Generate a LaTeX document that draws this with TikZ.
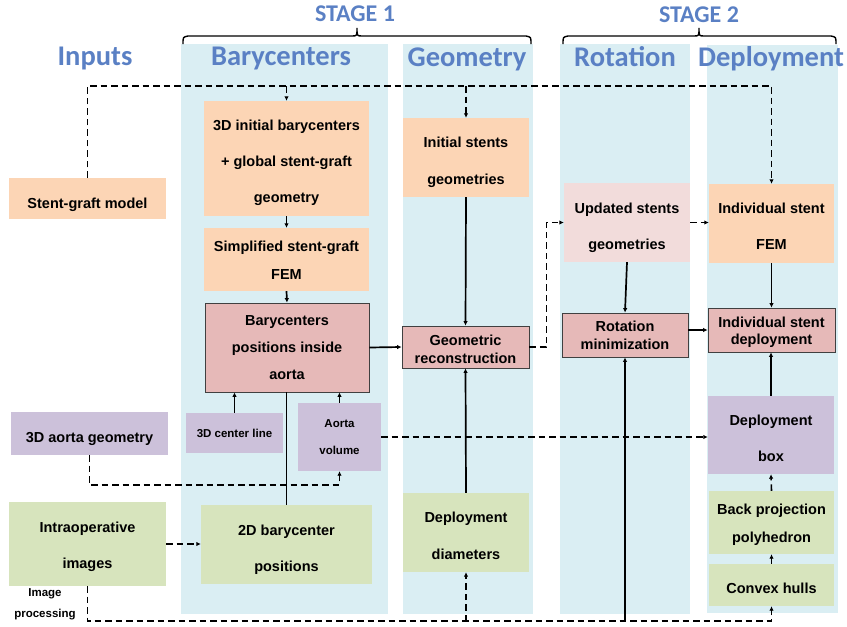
\documentclass[tikz,border=0pt]{standalone}
\usepackage{fontspec}
\setmainfont{Liberation Sans}
\newfontfamily\titlefont{Carlito}
\usetikzlibrary{arrows.meta}
\definecolor{colbg}{HTML}{DAEEF3}
\definecolor{peach}{HTML}{FCD5B5}
\definecolor{pinkc}{HTML}{E6B9B8}
\definecolor{lpink}{HTML}{F2DCDB}
\definecolor{purp}{HTML}{CCC1DA}
\definecolor{grn}{HTML}{D7E4BD}
\definecolor{ttl}{HTML}{5A80C4}
\newcommand{\tsh}[1]{\rule{0pt}{\dimexpr 10.6pt+#1pt*2\relax}}
\begin{document}
\begin{tikzpicture}[x=1pt,y=-1pt,
  bx/.style={inner sep=0pt, align=center, text=black},
  fs/.style={font=\bfseries\fontsize{14.5}{#1}\selectfont},
  sm/.style={font=\bfseries\fontsize{11.5}{#1}\selectfont},
  sz/.style 2 args={minimum width=#1pt, minimum height=#2pt},
  pch/.style={bx,fill=peach},
  pnk/.style={bx,fill=pinkc,draw=black!75,line width=0.8pt},
  lpk/.style={bx,fill=lpink},
  prp/.style={bx,fill=purp},
  grb/.style={bx,fill=grn},
  colrect/.style={fill=colbg},
  ln/.style={line width=1.7pt},
  arr/.style={line width=1.7pt,-{Latex[length=4.5pt,width=4.5pt]}},
  darr/.style={line width=1.6pt,dash pattern=on 6.5pt off 4pt,-{Latex[length=4.5pt,width=4.5pt]}},
  brc/.style={line width=1.4pt},
  ttlstyle/.style={text=ttl,font=\titlefont\bfseries\fontsize{28.5}{30}\selectfont, inner sep=0pt, anchor=base},
  stgstyle/.style={text=ttl,font=\titlefont\bfseries\fontsize{24}{26}\selectfont, inner sep=0pt, anchor=base}
]
\useasboundingbox (0,0) rectangle (847,627);

% columns
\fill[colrect] (181,44) rectangle (388,614);
\fill[colrect] (403,44) rectangle (533,614);
\fill[colrect] (560,44) rectangle (690,614);
\fill[colrect] (707,45) rectangle (838,613);

% braces
\draw[brc] (183,44) .. controls (183,37) .. (188,36) -- (352,36) .. controls (357,36) .. (357,28)
  .. controls (357,36) .. (362,36) -- (526,36) .. controls (531,37) .. (531,44);
\draw[brc] (563,44) .. controls (563,37) .. (568,36) -- (694,36) .. controls (699,36) .. (699,28)
  .. controls (699,36) .. (704,36) -- (831,36) .. controls (836,37) .. (836,44);

% titles
\node[stgstyle] (st1) at (355,21) {STAGE 1};
\node[stgstyle] (st2) at (699,22) {STAGE 2};
\node[ttlstyle] (tin) at (95,65) {Inputs};
\node[ttlstyle] (tba) at (281,65) {Barycenters};
\node[ttlstyle] (tge) at (467,66) {Geometry};
\node[ttlstyle] (tro) at (625,66) {Rotation};
\node[ttlstyle,anchor=base west] (tde) at (698,66) {Deployment};

% inputs
\node[pch,sz={157}{41},fs=18] (sgm) at (87.5,198.5) {\tsh{6}Stent-graft model};
\node[prp,sz={157}{43},fs=18] (ag) at (89.5,433.5) {\tsh{5}3D aorta geometry};
\node[grb,sz={157}{84},fs=36] (io) at (87.5,544) {\tsh{3}Intraoperative\\images};
\node[bx,sm=21] (ipl) at (45,604.5) {Image\\processing};

% barycenters column
\node[pch,sz={165}{115},fs=36] (ib) at (286.5,158.5) {\tsh{4}3D initial barycenters\\+ global stent-graft\\geometry};
\node[pch,sz={165}{63},fs=28] (sf) at (286.5,259.5) {\tsh{1}Simplified stent-graft\\FEM};
\node[pnk,sz={164}{89},fs=27] (bp) at (287,347.5) {Barycenters\\positions inside\\aorta};
\node[prp,sz={97}{40},sm=18] (cl) at (234.5,433) {3D center line};
\node[prp,sz={83}{68},sm=27] (av) at (339.5,437) {Aorta\\volume};
\node[grb,sz={171}{79},fs=36] (bc2) at (286.5,544.5) {\tsh{5}2D barycenter\\positions};

% geometry column
\node[pch,sz={126}{79},fs=37] (isg) at (466,157.5) {\tsh{5}Initial stents\\geometries};
\node[pnk,sz={127}{42},fs=18] (gr) at (465.5,347) {\tsh{2}Geometric\\reconstruction};
\node[grb,sz={126}{79},fs=37] (dd) at (466,532.5) {\tsh{3}Deployment\\diameters};

% rotation column
\node[lpk,sz={126}{79},fs=36] (usg) at (627,222.5) {\tsh{5}Updated stents\\geometries};
\node[pnk,sz={126}{44},fs=18] (rm) at (625,335) {Rotation\\minimization};

% deployment column
\node[pch,sz={125}{79},fs=36] (isf) at (771.5,223.5) {\tsh{3}Individual stent\\FEM};
\node[pnk,sz={127}{44},fs=17] (isd) at (771.5,330) {\tsh{2}Individual stent\\deployment};
\node[prp,sz={126}{78},fs=36] (db) at (771,435) {\tsh{3}Deployment\\box};
\node[grb,sz={125}{63},fs=28] (bpp) at (771.5,522.5) {\tsh{2}Back projection\\polyhedron};
\node[grb,sz={125}{42},fs=18] (ch) at (771.5,585) {\tsh{3}Convex hulls};

% connectors
\coordinate (tr) at (772,86);
\coordinate (bl) at (0,621);
\coordinate (ml) at (0,485);
\draw[darr] (sgm.north) |- (isf.north |- tr) -- (isf.north);
\draw[darr] (ib.north |- tr) -- (ib.north);
\draw[darr] (isg.north |- tr) -- (isg.north);

\draw[darr] (io.south) |- (ch.south |- bl) -- (ch.south);
\draw[darr] (dd.south |- bl) -- (dd.south);
\draw[arr] (rm.south |- bl) -- (rm.south);

\draw[darr] (ag.south) |- (av.south |- ml) -- (av.south);
\draw[darr] (av.east) -- (av.east -| db.west);
\draw[darr] (io.east) -- (io.east -| bc2.west);

\draw[ln] (bc2.north) -- (bc2.north |- bp.south);
\draw[arr] (cl.north) -- (cl.north |- bp.south);
\draw[arr] (av.north) -- (av.north |- bp.south);
\draw[arr] (ib.south) -- (sf.north);
\draw[arr] (sf.south) -- (bp.north);
\draw[arr] (bp.east) -- (gr.west);
\draw[arr] (isg.south) -- (gr.north);
\draw[arr] (dd.north) -- (gr.south);
\draw[darr] (gr.east) -- ++(17,0) |- (usg.west);
\draw[darr] (usg.east) -- (usg.east -| isf.west);
\draw[arr] (usg.south) -- (rm.north);
\draw[arr] (isd.west -| rm.east) -- (isd.west);
\draw[arr] (isf.south) -- (isd.north);
\draw[arr] (db.north) -- (db.north |- isd.south);
\draw[darr] (bpp.north) -- (db.south);
\draw[arr] (ch.north) -- (bpp.south);
\end{tikzpicture}
\end{document}
